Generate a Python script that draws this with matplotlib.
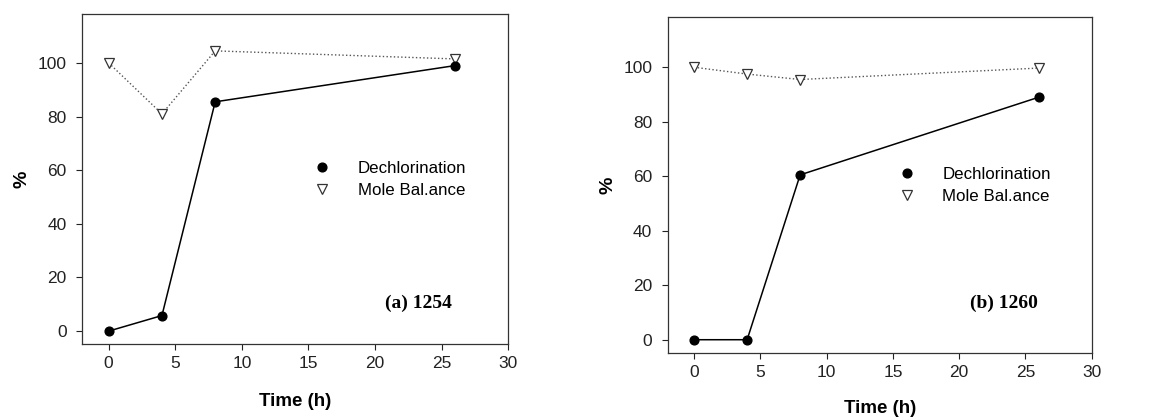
import matplotlib
matplotlib.use("Agg")
import matplotlib.pyplot as plt
from matplotlib.lines import Line2D

plt.rcParams['font.family'] = ['Liberation Sans', 'DejaVu Sans']

time_h = [0, 4, 8, 26]
dechlor_1254 = [0, 5.8, 85.5, 99]
mole_1254 = [100, 81, 104.5, 101.5]
dechlor_1260 = [0, 0, 60.5, 89]
mole_1260 = [100, 97.5, 95.5, 99.7]
panel_labels = ["(a) 1254", "(b) 1260"]
series_names = ["Dechlorination", "Mole Bal.ance"]
xticks = [0, 5, 10, 15, 20, 25, 30]
yticks = [0, 20, 40, 60, 80, 100]

fig = plt.figure(figsize=(11.59, 4.20), dpi=100)
axes = [fig.add_axes([0.0708, 0.181, 0.3676, 0.786]),
        fig.add_axes([0.576, 0.160, 0.366, 0.7986])]
data = [(dechlor_1254, mole_1254), (dechlor_1260, mole_1260)]
xlabpad = [15.5, 14]
legend_y = [0.553, 0.553]
label_pos = [(0.789, 0.124), (0.793, 0.148)]

for i, (ax, (dc, mb)) in enumerate(zip(axes, data)):
    ax.plot(time_h, mb, linestyle=':', color='#555555', linewidth=1.0,
            marker='v', markersize=6.5, markerfacecolor='white',
            markeredgecolor='#333333', markeredgewidth=0.9, zorder=2)
    ax.plot(time_h, dc, linestyle='-', color='black', linewidth=1.1,
            marker='o', markersize=6.3, markerfacecolor='black',
            markeredgecolor='black', zorder=3)
    ax.set_xlim(-2, 30)
    ax.set_ylim(-4.8, 118.3)
    ax.set_xticks(xticks)
    ax.set_yticks(yticks)
    ax.tick_params(direction='out', length=4, width=0.8, colors='#222222',
                   labelsize=12.5)
    ax.tick_params(axis='x', pad=5)
    ax.tick_params(axis='y', pad=7)
    for sp in ax.spines.values():
        sp.set_color('#333333')
        sp.set_linewidth(0.9)
    ax.set_xlabel("Time (h)", fontsize=13.5, fontweight='bold', labelpad=xlabpad[i])
    ax.set_ylabel("%", fontsize=14, fontweight='bold', labelpad=5)
    handles = [Line2D([], [], linestyle='none', marker='o', markersize=6.3,
                      markerfacecolor='black', markeredgecolor='black'),
               Line2D([], [], linestyle='none', marker='v', markersize=6.5,
                      markerfacecolor='white', markeredgecolor='#333333',
                      markeredgewidth=0.9)]
    ax.legend(handles, series_names, loc='upper left',
              bbox_to_anchor=(0.54, legend_y[i]), frameon=False, fontsize=12.2,
              handlelength=1.2, handletextpad=1.5, labelspacing=0.4,
              borderpad=0, borderaxespad=0)
    ax.text(label_pos[i][0], label_pos[i][1], panel_labels[i], transform=ax.transAxes,
            fontsize=14, fontweight='bold', family='Liberation Serif',
            ha='center', va='center')

fig.savefig("out.png", dpi=100, facecolor='white')
